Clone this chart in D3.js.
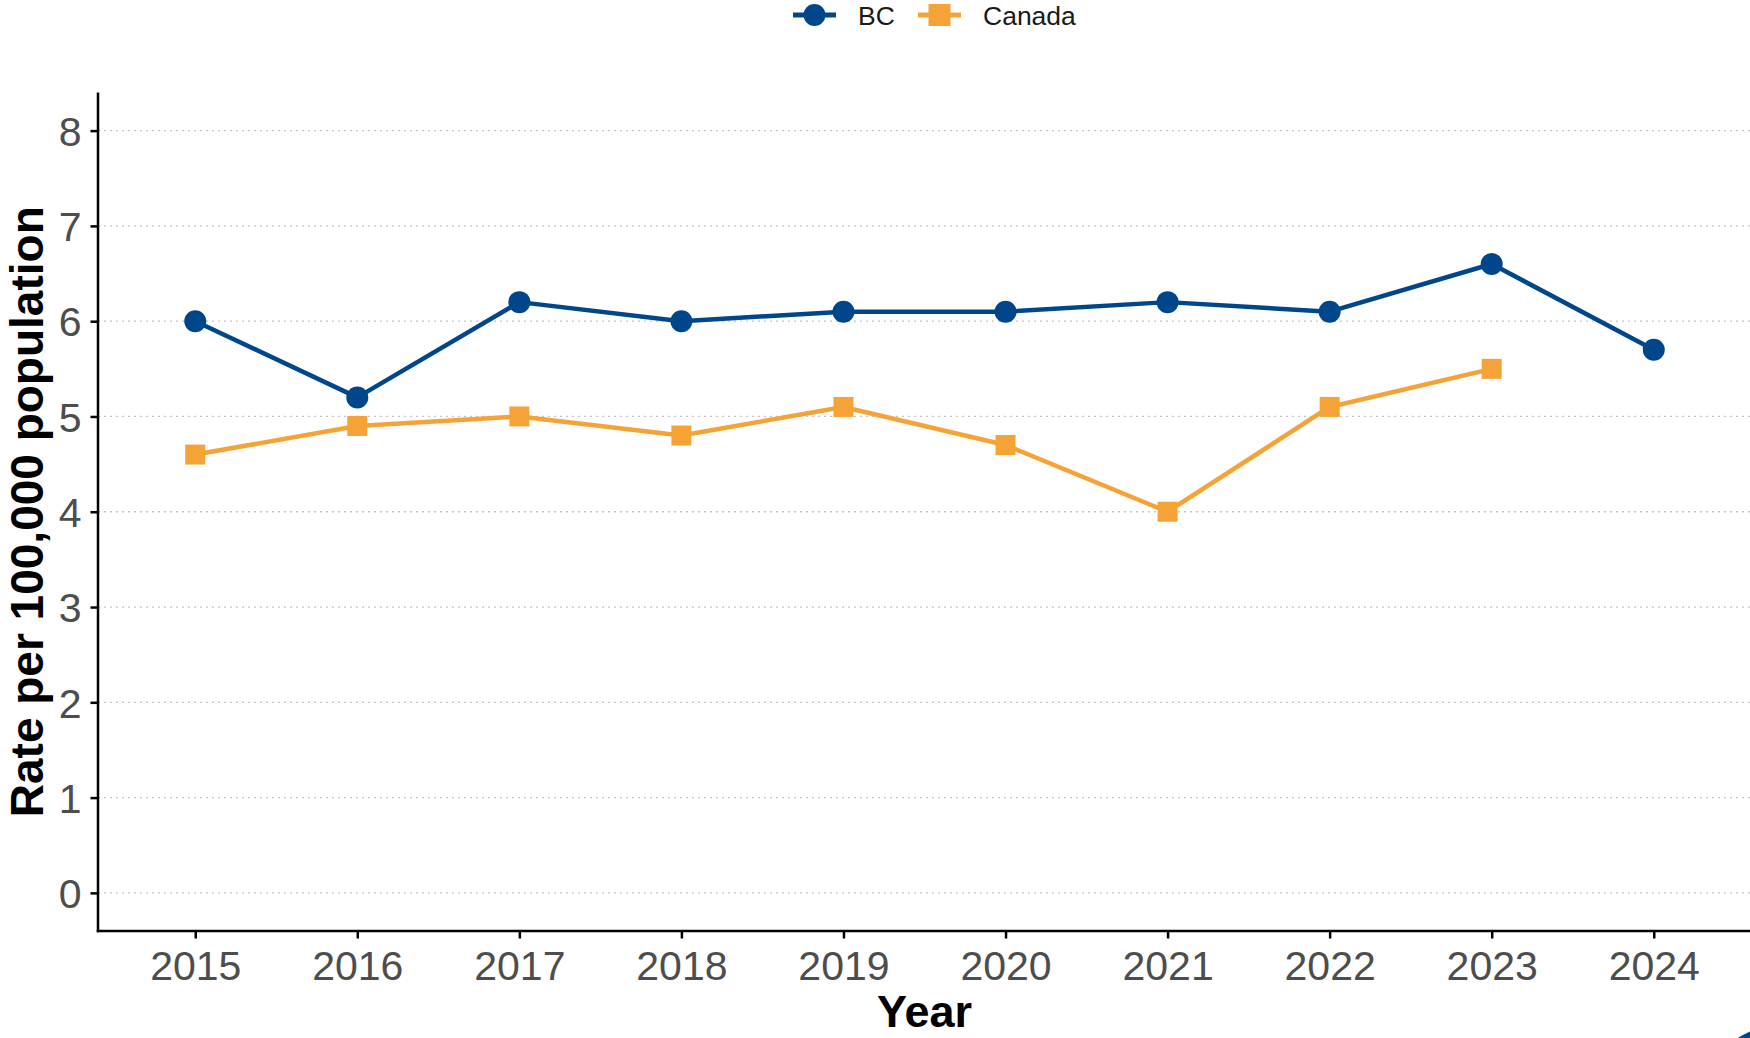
<!DOCTYPE html>
<html>
<head>
<meta charset="utf-8">
<script src="https://cdn.jsdelivr.net/npm/d3@7"></script>
<style>
html,body{margin:0;padding:0;background:#fff;}
svg{display:block;}
text{font-family:"Liberation Sans",Arial,sans-serif;}
</style>
</head>
<body>
<svg id="chart" width="1750" height="1038"></svg>
<script>
const years = [2015,2016,2017,2018,2019,2020,2021,2022,2023,2024];
const bcValues = [6.0,5.2,6.2,6.0,6.1,6.1,6.2,6.1,6.6,5.7];
const canadaYears = [2015,2016,2017,2018,2019,2020,2021,2022,2023];
const canadaValues = [4.6,4.9,5.0,4.8,5.1,4.7,4.0,5.1,5.5];
const yTicks = [0,1,2,3,4,5,6,7,8];
const seriesNames = ["BC","Canada"];
const seriesColors = ["#00468B","#F5A236"];

const svg = d3.select("#chart");
const panel = {left:98, right:1751, top:92.5, bottom:931};

const x = d3.scalePoint().domain(years).range([panel.left, panel.right]).padding(0.6);
const y = d3.scaleLinear().domain([-0.4, 8.4]).range([panel.bottom, panel.top]);

// gridlines
svg.append("g").selectAll("line").data(yTicks).join("line")
  .attr("x1", panel.left).attr("x2", panel.right)
  .attr("y1", d=>y(d)).attr("y2", d=>y(d))
  .attr("stroke","#c4c4c4").attr("stroke-width",1.3)
  .attr("stroke-dasharray","2,4");

// axes
const yAxis = svg.append("g").attr("transform",`translate(${panel.left},0)`)
  .call(d3.axisLeft(y).tickValues(yTicks).tickSize(7.5).tickPadding(9).tickFormat(d3.format("d")));
const xAxis = svg.append("g").attr("transform",`translate(0,${panel.bottom})`)
  .call(d3.axisBottom(x).tickSize(7.5).tickPadding(10).tickFormat(d3.format("d")));
[yAxis,xAxis].forEach(a=>{
  a.select(".domain").remove();
  a.selectAll(".tick line").attr("stroke","#000").attr("stroke-width",2.5);
  a.selectAll(".tick text").attr("fill","#4d4d4d").style("font-size","41px")
    .style("font-family","'Liberation Sans',Arial,sans-serif");
});
yAxis.selectAll(".tick text").attr("dy","0.36em");
xAxis.selectAll(".tick text").attr("dy","0.76em");
// axis lines
svg.append("line").attr("x1",panel.left).attr("x2",panel.left)
  .attr("y1",panel.top).attr("y2",panel.bottom+1.25)
  .attr("stroke","#000").attr("stroke-width",2.5);
svg.append("line").attr("x1",panel.left-1.25).attr("x2",panel.right)
  .attr("y1",panel.bottom).attr("y2",panel.bottom)
  .attr("stroke","#000").attr("stroke-width",2.5);

// titles
svg.append("text").attr("x",(panel.left+panel.right)/2).attr("y",1027)
  .attr("text-anchor","middle").attr("font-weight","bold").attr("font-size","45px")
  .attr("fill","#000").text("Year");
svg.append("text").attr("transform",`translate(43,${(panel.top+panel.bottom)/2}) rotate(-90)`)
  .attr("text-anchor","middle").attr("font-weight","bold").attr("font-size","46px")
  .attr("fill","#000").text("Rate per 100,000 population");

// lines
const line = d3.line().x(d=>x(d[0])).y(d=>y(d[1]));
const bcData = years.map((yr,i)=>[yr,bcValues[i]]);
const caData = canadaYears.map((yr,i)=>[yr,canadaValues[i]]);

svg.append("path").datum(caData).attr("d",line).attr("fill","none")
  .attr("stroke",seriesColors[1]).attr("stroke-width",4.5).attr("stroke-linejoin","round");
svg.append("g").selectAll("rect").data(caData).join("rect")
  .attr("x",d=>x(d[0])-10).attr("y",d=>y(d[1])-10).attr("width",20).attr("height",20)
  .attr("fill",seriesColors[1]);

svg.append("path").datum(bcData).attr("d",line).attr("fill","none")
  .attr("stroke",seriesColors[0]).attr("stroke-width",4.5).attr("stroke-linejoin","round");
svg.append("g").selectAll("circle").data(bcData).join("circle")
  .attr("cx",d=>x(d[0])).attr("cy",d=>y(d[1])).attr("r",11)
  .attr("fill",seriesColors[0]);

// legend
const lg = svg.append("g");
const keys = [{name:seriesNames[0],color:seriesColors[0],kx:793,tx:858,shape:"circle"},
              {name:seriesNames[1],color:seriesColors[1],kx:918,tx:983,shape:"square"}];
keys.forEach(k=>{
  lg.append("line").attr("x1",k.kx).attr("x2",k.kx+43).attr("y1",15).attr("y2",15)
    .attr("stroke",k.color).attr("stroke-width",5);
  if(k.shape==="circle"){
    lg.append("circle").attr("cx",k.kx+21.5).attr("cy",15).attr("r",11).attr("fill",k.color);
  } else {
    lg.append("rect").attr("x",k.kx+21.5-11).attr("y",4).attr("width",22).attr("height",22).attr("fill",k.color);
  }
  lg.append("text").attr("x",k.tx).attr("y",15).attr("dy","0.36em")
    .attr("font-size","26.5px").attr("fill","#1a1a1a").text(k.name);
});

// decorative corner arc
svg.append("circle").attr("cx",1785).attr("cy",1110).attr("r",80)
  .attr("fill","none").attr("stroke",seriesColors[0]).attr("stroke-width",12);
</script>
</body>
</html>
